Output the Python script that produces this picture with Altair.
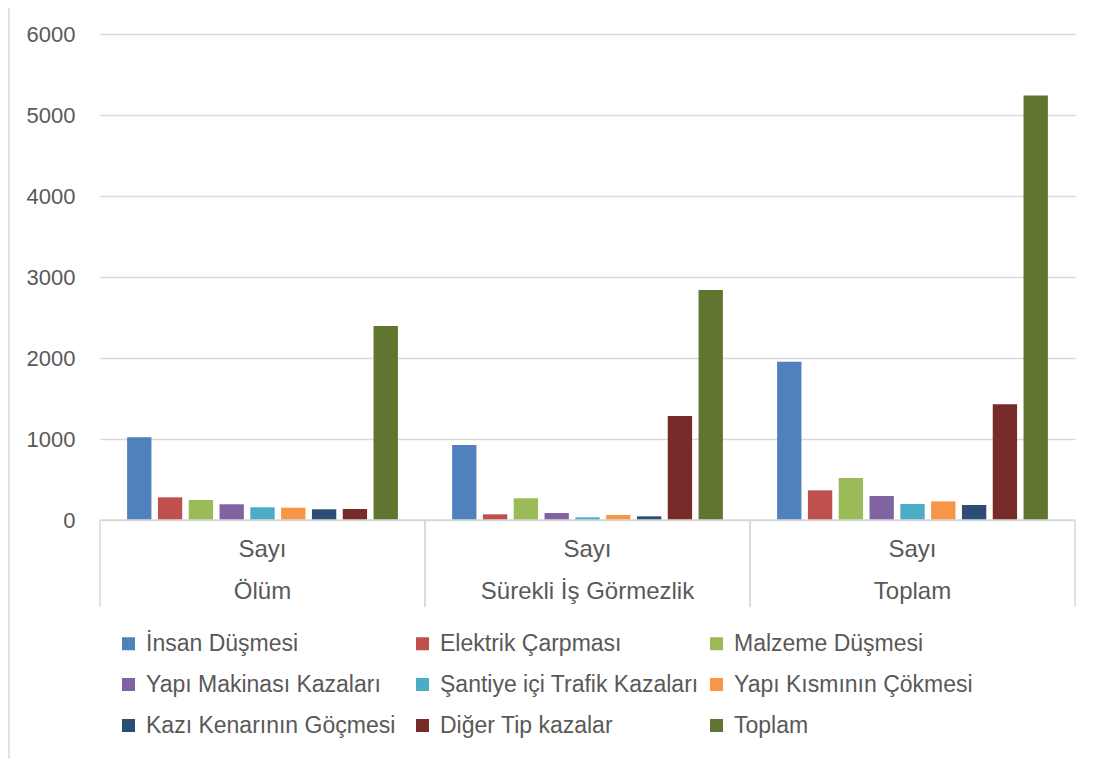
import altair as alt
import pandas as pd

groups = ["Ölüm", "Sürekli İş Görmezlik", "Toplam"]
subcat = "Sayı"
series = ["İnsan Düşmesi", "Elektrik Çarpması", "Malzeme Düşmesi",
          "Yapı Makinası Kazaları", "Şantiye içi Trafik Kazaları", "Yapı Kısmının Çökmesi",
          "Kazı Kenarının Göçmesi", "Diğer Tip kazalar", "Toplam"]
colors = ["#4F81BD", "#C0504D", "#9BBB59", "#8064A2", "#4BACC6", "#F79646",
          "#2C4D75", "#772C2A", "#5F7530"]
olum = [1021, 280, 247, 194, 157, 152, 132, 136, 2395]
surekli = [926, 70, 268, 86, 33, 62, 45, 1284, 2840]
toplam = [1955, 366, 518, 296, 197, 230, 185, 1428, 5240]
yticks = [0, 1000, 2000, 3000, 4000, 5000, 6000]

rows = []
for g, vals in zip(groups, [olum, surekli, toplam]):
    for s, v in zip(series, vals):
        rows.append({"group": g, "series": s, "value": v})
df = pd.DataFrame(rows)
gdf = pd.DataFrame({"group": groups, "sub": [subcat] * len(groups)})
zero = pd.DataFrame({"v": [0]})

W, H = 975, 486
text_color = "#595959"
grid_color = "#D9D9D9"

xscale = alt.Scale(domain=groups, paddingInner=0, paddingOuter=0)

bars = alt.Chart(df).mark_bar().encode(
    x=alt.X("group:N", scale=xscale, axis=None, sort=groups),
    xOffset=alt.XOffset("series:N", sort=series,
                        scale=alt.Scale(domain=series, paddingInner=0.21, paddingOuter=0.88)),
    y=alt.Y("value:Q", scale=alt.Scale(domain=[0, 6000], nice=False),
            axis=alt.Axis(values=yticks, format="d", title=None, domain=False, ticks=False,
                          grid=True, gridColor=grid_color, gridWidth=1.5,
                          labelFontSize=22, labelColor=text_color, labelPadding=25)),
    color=alt.Color("series:N", scale=alt.Scale(domain=series, range=colors),
                    legend=alt.Legend(title=None, orient="none", legendX=17, legendY=598,
                                      columns=3, direction="horizontal", gridAlign="all",
                                      columnPadding=6, rowPadding=17, symbolType="square",
                                      symbolSize=169, symbolStrokeWidth=0, labelFontSize=23,
                                      labelColor=text_color, labelOffset=6, labelLimit=400)),
)

baseline = alt.Chart(zero).mark_rule(color=grid_color, strokeWidth=1.5).encode(
    y=alt.Y("v:Q", scale=alt.Scale(domain=[0, 6000], nice=False))
)

sep_left = alt.Chart(gdf).mark_rule(color=grid_color, strokeWidth=1.5).encode(
    x=alt.X("group:N", scale=xscale, sort=groups, bandPosition=0),
    y=alt.value(H), y2=alt.value(H + 87)
)
sep_right = alt.Chart(gdf).mark_rule(color=grid_color, strokeWidth=1.5).encode(
    x=alt.X("group:N", scale=xscale, sort=groups, bandPosition=1),
    y=alt.value(H), y2=alt.value(H + 87)
)

lab1 = alt.Chart(gdf).mark_text(fontSize=24, color=text_color, baseline="middle").encode(
    x=alt.X("group:N", scale=xscale, sort=groups, bandPosition=0.5),
    y=alt.value(H + 30), text="sub:N"
)
lab2 = alt.Chart(gdf).mark_text(fontSize=24, color=text_color, baseline="middle").encode(
    x=alt.X("group:N", scale=xscale, sort=groups, bandPosition=0.5),
    y=alt.value(H + 72), text="group:N"
)

border = alt.Chart(zero).mark_rect(fill=None, stroke=grid_color, strokeWidth=1.5).encode(
    x=alt.value(-91), x2=alt.value(1100), y=alt.value(-27), y2=alt.value(800)
)

chart = alt.layer(border, bars, baseline, sep_left, sep_right, lab1, lab2).properties(
    width=W, height=H,
    autosize=alt.AutoSizeParams(type="none"),
    padding={"left": 92, "top": 26, "right": 20, "bottom": 240},
).configure(
    font="Liberation Sans"
).configure_view(stroke=None)

chart.save("out.html", embed_options={"renderer": "svg", "actions": False})
